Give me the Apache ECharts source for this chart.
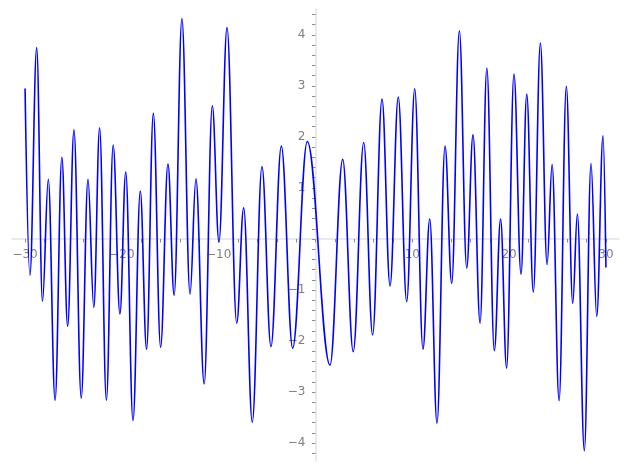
<!DOCTYPE html>
<html>
<head>
<meta charset="utf-8">
<script src="https://cdn.jsdelivr.net/npm/echarts@6/dist/echarts.min.js"></script>
<style>
html,body{margin:0;padding:0;background:#fff;}
#chart{width:627px;height:470px;}
</style>
</head>
<body>
<div id="chart"></div>
<script>
// Curve: local extremes (and end points)
var xValues = [-30.0,-29.5,-28.8,-28.2,-27.6,-26.9,-26.2,-25.6,-24.95,-24.2,-23.5,-22.9,-22.3,-21.6,-20.9,-20.2,-19.6,-18.85,-18.1,-17.45,-16.75,-16.0,-15.24,-14.6,-13.8,-12.96,-12.35,-11.5,-10.66,-9.97,-9.14,-8.14,-7.42,-6.53,-5.53,-4.6,-3.53,-2.36,-0.85,1.5,2.81,3.9,4.98,5.9,6.87,7.7,8.55,9.42,10.25,11.1,11.8,12.55,13.38,14.07,14.86,15.62,16.27,17.0,17.7,18.47,19.12,19.74,20.5,21.23,21.82,22.5,23.23,23.92,24.44,25.16,25.91,26.57,27.05,27.77,28.46,29.05,29.7,30.0];
var yValues = [2.95,-0.71,3.75,-1.22,1.17,-3.16,1.60,-1.71,2.14,-3.12,1.17,-1.34,2.18,-3.16,1.84,-1.47,1.31,-3.56,0.94,-2.16,2.46,-2.12,1.47,-1.10,4.32,-1.08,1.18,-2.84,2.61,-0.06,4.14,-1.65,0.61,-3.59,1.42,-2.11,1.82,-2.14,1.91,-2.47,1.56,-2.21,1.89,-1.88,2.74,-0.92,2.78,-1.23,2.94,-2.16,0.39,-3.61,1.82,-0.87,4.08,-0.57,2.04,-1.65,3.35,-2.19,0.39,-2.53,3.23,-0.69,2.84,-1.04,3.84,-0.50,1.46,-3.17,2.99,-1.26,0.49,-4.15,1.48,-1.52,2.02,-0.56];

var xTickLabels = [-30,-20,-10,10,20,30];
var xTicks = [-30,-28,-26,-24,-22,-20,-18,-16,-14,-12,-10,-8,-6,-4,-2,0,2,4,6,8,10,12,14,16,18,20,22,24,26,28,30];
var yTickLabels = [-4,-3,-2,-1,1,2,3,4];
var yTicks = [-4.2,-4,-3.8,-3.6,-3.4,-3.2,-3,-2.8,-2.6,-2.4,-2.2,-2,-1.8,-1.6,-1.4,-1.2,-1,-0.8,-0.6,-0.4,-0.2,0,0.2,0.4,0.6,0.8,1,1.2,1.4,1.6,1.8,2,2.2,2.4,2.6,2.8,3,3.2,3.4,3.6,3.8,4,4.2,4.4];

var X_MIN = -31.35, X_MAX = 31.35, Y_MIN = -4.35, Y_MAX = 4.5;

var W = 627, H = 470;
var G_LEFT = 12, G_RIGHT = 8, G_TOP = 9.3, G_BOTTOM = 9;
var gW = W - G_LEFT - G_RIGHT, gH = H - G_TOP - G_BOTTOM;
// Place axes through the origin (offset from the grid edges)
var xAxisOffset = -(gH * (0 - Y_MIN) / (Y_MAX - Y_MIN));
var yAxisOffset = -(gW * (0 - X_MIN) / (X_MAX - X_MIN));

var data = xValues.map(function (x, i) { return [x, yValues[i]]; });
function fmt(v) { return String(v).replace('-', '\u2212'); }

var labelStyle = { color: '#808080', fontSize: 12, fontFamily: 'DejaVu Sans' };
var axisLineStyle = { color: '#e3e3e3', width: 1.5 };
var tickStyle = { color: '#8c8c8c', width: 1 };

var chart = echarts.init(document.getElementById('chart'), null, { renderer: 'canvas' });
chart.setOption({
  animation: false,
  backgroundColor: '#ffffff',
  grid: { left: G_LEFT, right: G_RIGHT, top: G_TOP, bottom: G_BOTTOM, containLabel: false, outerBoundsMode: 'none' },
  xAxis: {
    type: 'value', min: X_MIN, max: X_MAX, position: 'bottom', offset: xAxisOffset,
    axisLine: { show: true, onZero: false, lineStyle: axisLineStyle },
    axisTick: { show: true, customValues: xTicks, length: 3.5, lineStyle: tickStyle },
    axisLabel: Object.assign({ customValues: xTickLabels, formatter: fmt, margin: 10 }, labelStyle),
    splitLine: { show: false }
  },
  yAxis: {
    type: 'value', min: Y_MIN, max: Y_MAX, position: 'left', offset: yAxisOffset,
    axisLine: { show: true, onZero: false, lineStyle: axisLineStyle },
    axisTick: { show: true, customValues: yTicks, length: 3.5, lineStyle: tickStyle },
    axisLabel: Object.assign({ customValues: yTickLabels, formatter: fmt, margin: 10 }, labelStyle),
    splitLine: { show: false }
  },
  series: [{
    type: 'line',
    data: data,
    showSymbol: false,
    symbol: 'none',
    smooth: 0.38,
    smoothMonotone: 'x',
    clip: false,
    lineStyle: { color: '#0000ff', width: 1.6 },
    z: 5
  }]
});
</script>
</body>
</html>
